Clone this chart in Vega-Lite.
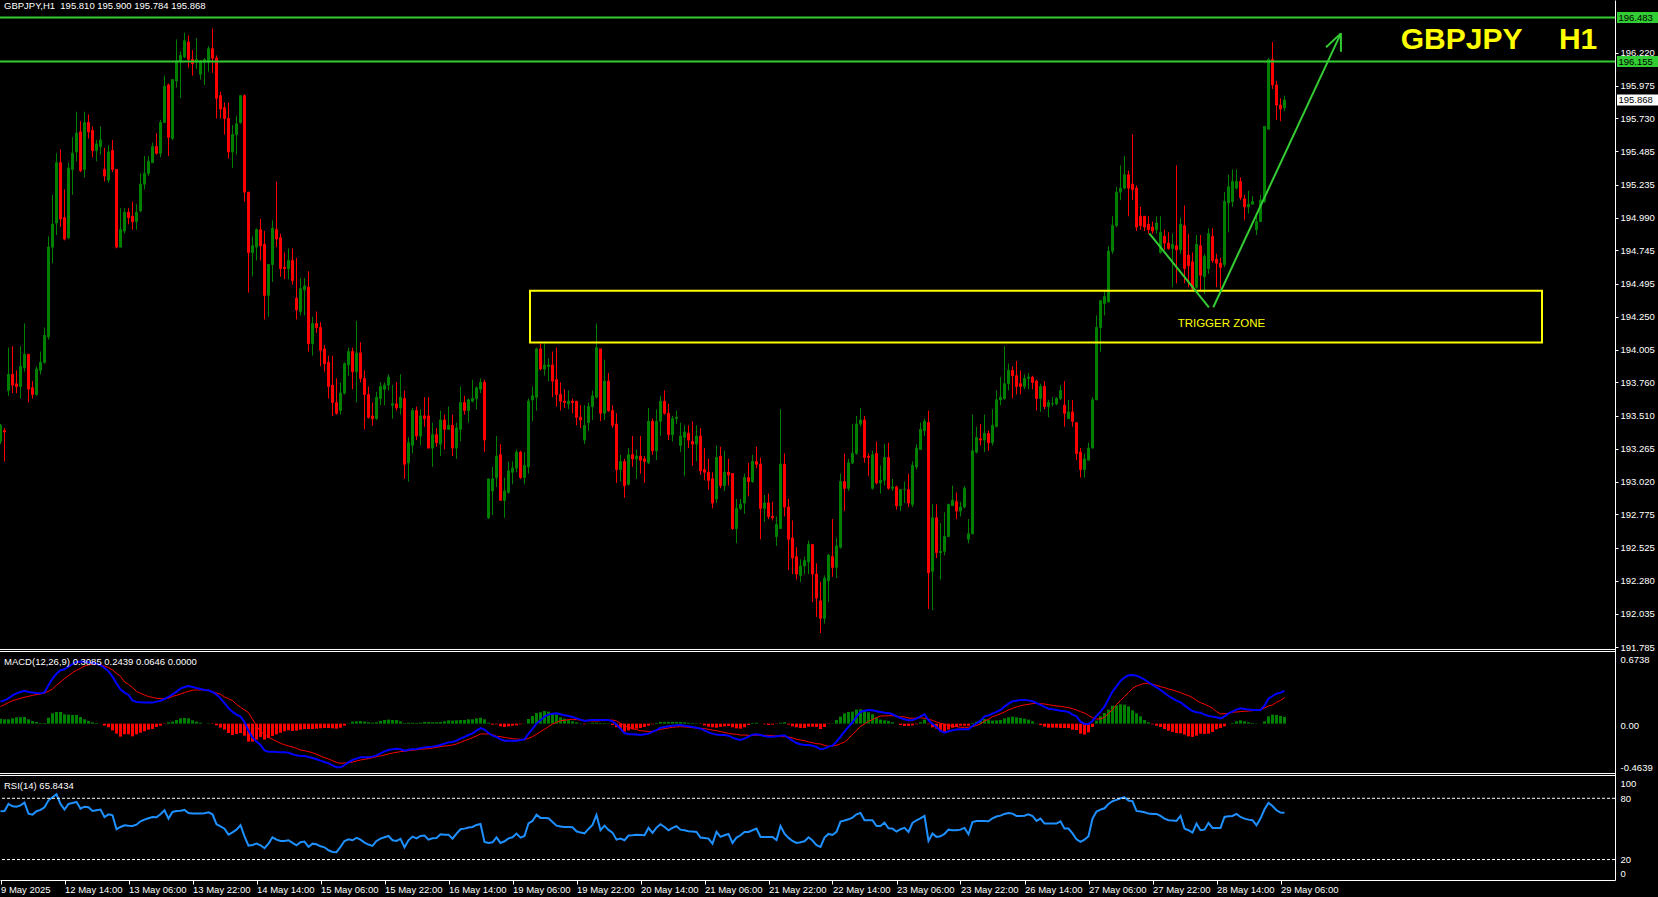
{
"$schema":"https://vega.github.io/schema/vega-lite/v6.json",
"width":1615,"height":880,
"autosize":{"type":"none"},
"padding":{"left":0,"top":0,"right":43,"bottom":17},
"background":"#000000",
"config":{"font":"Liberation Sans","view":{"stroke":null},"scale":{"continuousPadding":0},"axis":{"labelFont":"Liberation Sans","labelFontSize":9.5,"labelColor":"#ffffff","tickColor":"#ffffff","domainColor":"#ffffff","grid":false}},
"data":{"values":"i,o,h,l,c,macd,sig,hist,rsi\n0,193.32,193.45,193.30,193.44,0.207,0.160,0.047,67.3\n1,193.40,193.42,193.17,193.39,0.219,0.179,0.041,67.6\n2,193.70,194.02,193.66,193.82,0.238,0.198,0.041,74.5\n3,193.82,194.03,193.68,193.74,0.266,0.216,0.050,72.2\n4,193.75,193.85,193.68,193.73,0.285,0.226,0.060,71.8\n5,193.73,194.03,193.64,193.88,0.298,0.238,0.060,73.1\n6,193.87,194.20,193.84,193.97,0.310,0.248,0.063,75.8\n7,193.97,193.97,193.61,193.71,0.298,0.257,0.041,65.0\n8,193.72,193.77,193.64,193.67,0.292,0.266,0.025,64.0\n9,193.67,193.88,193.66,193.86,0.288,0.273,0.016,67.3\n10,193.85,193.99,193.82,193.91,0.285,0.279,0.006,68.6\n11,193.91,194.17,193.90,194.11,0.295,0.288,0.006,71.2\n12,194.10,194.85,194.08,194.77,0.361,0.304,0.056,78.0\n13,194.77,195.16,194.65,194.94,0.423,0.326,0.097,81.0\n14,194.95,195.47,194.86,195.40,0.470,0.361,0.110,83.9\n15,195.40,195.50,194.92,194.98,0.502,0.392,0.110,74.5\n16,194.99,195.20,194.82,194.83,0.511,0.423,0.088,68.9\n17,194.84,195.40,194.83,195.36,0.536,0.451,0.085,74.5\n18,195.35,195.59,195.16,195.47,0.561,0.480,0.082,75.4\n19,195.48,195.78,195.41,195.62,0.583,0.502,0.082,76.4\n20,195.63,195.71,195.33,195.34,0.583,0.520,0.063,69.9\n21,195.35,195.78,195.29,195.70,0.583,0.542,0.041,71.8\n22,195.70,195.76,195.58,195.63,0.577,0.552,0.025,71.2\n23,195.64,195.67,195.44,195.49,0.574,0.561,0.013,67.6\n24,195.49,195.57,195.41,195.54,0.564,0.558,0.006,68.3\n25,195.52,195.67,195.46,195.57,0.552,0.552,0.000,68.9\n26,195.35,195.51,195.26,195.30,0.524,0.542,-0.019,61.7\n27,195.27,195.53,195.25,195.48,0.492,0.527,-0.034,64.3\n28,195.49,195.57,195.33,195.35,0.442,0.505,-0.063,63.4\n29,195.35,195.35,194.76,194.77,0.379,0.473,-0.094,49.7\n30,194.77,195.06,194.77,194.90,0.323,0.445,-0.122,51.9\n31,194.89,195.06,194.87,195.03,0.292,0.392,-0.100,53.6\n32,195.03,195.06,194.94,194.99,0.270,0.370,-0.100,53.2\n33,195.00,195.11,194.90,194.96,0.219,0.339,-0.119,52.9\n34,194.96,195.09,194.90,195.03,0.204,0.304,-0.100,54.2\n35,195.04,195.32,195.03,195.24,0.201,0.285,-0.085,57.5\n36,195.24,195.45,195.20,195.32,0.198,0.270,-0.072,59.1\n37,195.32,195.45,195.30,195.41,0.198,0.254,-0.056,60.4\n38,195.40,195.55,195.40,195.52,0.198,0.248,-0.050,61.7\n39,195.52,195.62,195.46,195.47,0.207,0.238,-0.031,61.4\n40,195.47,195.72,195.44,195.70,0.216,0.235,-0.019,64.3\n41,195.70,196.05,195.70,195.97,0.232,0.235,-0.003,68.3\n42,195.98,195.99,195.45,195.59,0.251,0.238,0.013,60.1\n43,195.58,196.02,195.57,196.02,0.276,0.257,0.019,66.6\n44,196.01,196.32,195.96,196.16,0.301,0.266,0.035,67.6\n45,196.15,196.23,195.88,196.20,0.329,0.279,0.050,67.9\n46,196.19,196.37,196.18,196.31,0.345,0.292,0.053,68.6\n47,196.30,196.35,196.11,196.17,0.354,0.304,0.050,65.6\n48,196.17,196.24,196.05,196.14,0.345,0.314,0.031,65.0\n49,196.15,196.33,196.10,196.17,0.335,0.317,0.019,65.0\n50,196.06,196.16,196.02,196.16,0.326,0.317,0.009,65.0\n51,196.15,196.18,195.98,196.17,0.317,0.317,0.000,65.3\n52,196.15,196.27,196.08,196.25,0.314,0.310,0.003,66.3\n53,196.25,196.40,196.07,196.18,0.298,0.301,-0.003,64.3\n54,196.18,196.20,195.73,195.88,0.273,0.288,-0.016,54.6\n55,195.90,195.93,195.73,195.80,0.238,0.276,-0.038,52.6\n56,195.81,195.85,195.61,195.73,0.194,0.251,-0.056,50.3\n57,195.73,195.85,195.43,195.48,0.147,0.235,-0.088,44.4\n58,195.48,195.68,195.36,195.61,0.110,0.216,-0.107,46.7\n59,195.61,195.75,195.46,195.69,0.085,0.182,-0.097,49.3\n60,195.70,195.90,195.69,195.90,0.066,0.154,-0.088,53.6\n61,195.90,195.91,195.11,195.18,0.016,0.129,-0.113,42.8\n62,195.18,195.18,194.43,194.73,-0.066,0.103,-0.169,33.7\n63,194.73,194.85,194.55,194.78,-0.129,0.041,-0.169,34.3\n64,194.77,194.91,194.67,194.90,-0.169,-0.019,-0.150,35.6\n65,194.90,194.98,194.67,194.78,-0.201,-0.075,-0.125,34.0\n66,194.79,194.89,194.23,194.41,-0.251,-0.100,-0.150,31.1\n67,194.41,194.64,194.25,194.64,-0.263,-0.129,-0.135,35.6\n68,194.64,194.97,194.51,194.91,-0.263,-0.147,-0.116,41.8\n69,194.90,195.26,194.77,194.83,-0.266,-0.166,-0.100,39.5\n70,194.84,194.87,194.55,194.61,-0.270,-0.185,-0.085,38.2\n71,194.62,194.73,194.53,194.61,-0.270,-0.198,-0.072,38.2\n72,194.61,194.76,194.53,194.67,-0.273,-0.210,-0.063,38.9\n73,194.67,194.76,194.49,194.52,-0.288,-0.219,-0.069,36.3\n74,194.39,194.69,194.23,194.30,-0.298,-0.232,-0.066,34.0\n75,194.29,194.54,194.26,194.46,-0.304,-0.248,-0.056,36.9\n76,194.45,194.54,194.26,194.48,-0.304,-0.254,-0.050,37.6\n77,194.47,194.59,193.99,194.05,-0.314,-0.263,-0.050,32.4\n78,194.05,194.25,193.96,194.20,-0.323,-0.273,-0.050,35.6\n79,194.20,194.29,194.13,194.17,-0.335,-0.288,-0.047,35.0\n80,194.17,194.21,193.88,194.00,-0.348,-0.304,-0.044,33.0\n81,194.01,194.04,193.84,193.90,-0.361,-0.320,-0.041,32.0\n82,193.91,193.96,193.64,193.73,-0.373,-0.332,-0.041,29.1\n83,193.74,193.96,193.51,193.61,-0.392,-0.348,-0.044,27.5\n84,193.61,193.79,193.52,193.53,-0.411,-0.364,-0.047,27.2\n85,193.55,193.76,193.52,193.68,-0.411,-0.373,-0.038,32.4\n86,193.68,193.91,193.67,193.90,-0.389,-0.370,-0.019,38.2\n87,193.89,194.02,193.81,193.99,-0.364,-0.367,0.003,39.9\n88,193.99,194.02,193.71,193.84,-0.342,-0.361,0.019,38.9\n89,193.84,194.22,193.61,193.98,-0.329,-0.351,0.022,41.2\n90,193.98,194.06,193.76,193.79,-0.317,-0.342,0.025,39.5\n91,193.79,193.85,193.41,193.67,-0.317,-0.335,0.019,36.6\n92,193.67,193.73,193.49,193.50,-0.317,-0.329,0.013,34.7\n93,193.51,193.61,193.44,193.49,-0.310,-0.320,0.009,33.4\n94,193.49,193.69,193.48,193.65,-0.298,-0.310,0.013,38.2\n95,193.64,193.76,193.59,193.73,-0.279,-0.304,0.025,40.5\n96,193.71,193.76,193.59,193.74,-0.260,-0.295,0.034,41.8\n97,193.74,193.82,193.70,193.80,-0.248,-0.285,0.038,43.1\n98,193.59,193.74,193.49,193.60,-0.241,-0.276,0.034,38.9\n99,193.60,193.76,193.55,193.57,-0.235,-0.270,0.034,38.2\n100,193.57,193.82,193.52,193.65,-0.241,-0.263,0.022,40.2\n101,193.64,193.70,193.04,193.15,-0.254,-0.260,0.006,32.0\n102,193.16,193.35,193.02,193.31,-0.245,-0.254,0.009,38.9\n103,193.29,193.57,193.23,193.55,-0.241,-0.251,0.009,42.5\n104,193.55,193.58,193.33,193.36,-0.238,-0.245,0.006,40.8\n105,193.36,193.56,193.29,193.51,-0.232,-0.241,0.009,43.1\n106,193.51,193.65,193.43,193.49,-0.223,-0.238,0.016,43.5\n107,193.51,193.65,193.27,193.27,-0.219,-0.235,0.016,39.5\n108,193.27,193.46,193.13,193.37,-0.216,-0.229,0.013,40.8\n109,193.37,193.42,193.28,193.31,-0.210,-0.223,0.013,41.2\n110,193.30,193.55,193.21,193.48,-0.201,-0.216,0.016,44.8\n111,193.48,193.52,193.26,193.41,-0.188,-0.210,0.022,44.4\n112,193.41,193.58,193.41,193.44,-0.176,-0.207,0.031,44.4\n113,193.44,193.52,193.21,193.27,-0.172,-0.201,0.028,40.5\n114,193.27,193.46,193.19,193.42,-0.160,-0.191,0.031,45.4\n115,193.41,193.73,193.32,193.61,-0.141,-0.176,0.034,49.7\n116,193.61,193.66,193.52,193.55,-0.125,-0.160,0.034,50.3\n117,193.55,193.64,193.46,193.63,-0.107,-0.147,0.041,51.3\n118,193.62,193.78,193.61,193.64,-0.091,-0.132,0.041,51.9\n119,193.64,193.73,193.56,193.72,-0.066,-0.116,0.050,53.9\n120,193.71,193.79,193.68,193.76,-0.041,-0.097,0.056,54.9\n121,193.76,193.78,193.24,193.33,-0.056,-0.097,0.041,37.3\n122,192.75,193.04,192.74,193.04,-0.088,-0.097,0.009,36.3\n123,192.95,193.13,192.77,193.04,-0.113,-0.103,-0.009,36.9\n124,193.05,193.36,192.98,193.21,-0.125,-0.119,-0.006,41.8\n125,193.22,193.30,192.88,192.88,-0.147,-0.122,-0.025,36.3\n126,192.88,193.05,192.75,192.95,-0.160,-0.129,-0.031,37.9\n127,192.94,193.17,192.93,193.10,-0.160,-0.135,-0.025,40.8\n128,193.09,193.17,193.00,193.12,-0.160,-0.141,-0.019,41.8\n129,193.12,193.26,193.09,193.24,-0.160,-0.144,-0.016,45.4\n130,193.24,193.25,193.04,193.05,-0.154,-0.147,-0.006,41.5\n131,193.05,193.24,193.00,193.14,-0.147,-0.150,0.003,43.1\n132,193.13,193.64,193.08,193.62,-0.094,-0.138,0.044,55.5\n133,193.63,193.73,193.47,193.66,-0.050,-0.122,0.072,57.8\n134,193.65,194.02,193.55,194.01,0.000,-0.100,0.100,64.0\n135,194.01,194.05,193.85,193.86,0.031,-0.075,0.107,60.8\n136,193.86,194.05,193.81,193.89,0.066,-0.053,0.119,60.8\n137,193.88,193.94,193.77,193.89,0.085,-0.028,0.113,60.4\n138,193.89,193.99,193.65,193.77,0.094,-0.003,0.097,56.8\n139,193.78,194.02,193.58,193.67,0.097,0.013,0.085,53.2\n140,193.67,193.76,193.55,193.62,0.088,0.028,0.060,52.3\n141,193.62,193.71,193.57,193.61,0.078,0.031,0.047,51.9\n142,193.60,193.70,193.56,193.62,0.072,0.038,0.034,51.9\n143,193.62,193.64,193.53,193.61,0.063,0.041,0.022,51.6\n144,193.62,193.62,193.44,193.50,0.050,0.038,0.013,47.7\n145,193.50,193.59,193.42,193.48,0.038,0.034,0.003,46.4\n146,193.33,193.59,193.30,193.44,0.025,0.031,-0.006,45.7\n147,193.46,193.61,193.40,193.58,0.031,0.028,0.003,50.0\n148,193.58,193.70,193.48,193.66,0.034,0.025,0.009,53.9\n149,193.65,194.20,193.64,194.02,0.034,0.025,0.009,63.7\n150,194.01,194.01,193.47,193.53,0.034,0.028,0.006,48.7\n151,193.53,193.93,193.48,193.77,0.034,0.028,0.006,53.2\n152,193.77,193.83,193.54,193.55,0.034,0.031,0.003,49.0\n153,193.55,193.59,193.42,193.44,0.022,0.034,-0.013,46.4\n154,193.45,193.53,193.01,193.11,-0.009,0.025,-0.034,39.5\n155,193.11,193.22,193.02,193.17,-0.047,0.003,-0.050,40.5\n156,193.17,193.19,192.90,192.99,-0.091,-0.016,-0.075,38.9\n157,193.00,193.27,192.99,193.22,-0.097,-0.034,-0.063,43.5\n158,193.22,193.36,193.13,193.19,-0.100,-0.047,-0.053,43.8\n159,193.19,193.26,193.04,193.21,-0.103,-0.056,-0.047,44.4\n160,193.21,193.36,193.08,193.18,-0.107,-0.066,-0.041,44.1\n161,193.19,193.21,193.01,193.17,-0.100,-0.069,-0.031,43.8\n162,193.16,193.57,193.15,193.47,-0.094,-0.075,-0.019,51.0\n163,193.47,193.49,193.22,193.25,-0.078,-0.072,-0.006,46.1\n164,193.25,193.56,193.18,193.47,-0.060,-0.066,0.006,51.3\n165,193.47,193.66,193.36,193.62,-0.038,-0.053,0.016,54.6\n166,193.62,193.70,193.52,193.53,-0.031,-0.047,0.016,51.9\n167,193.53,193.60,193.33,193.37,-0.025,-0.041,0.016,48.7\n168,193.37,193.51,193.32,193.49,-0.019,-0.034,0.016,51.0\n169,193.49,193.55,193.45,193.50,-0.016,-0.031,0.016,52.6\n170,193.29,193.46,193.24,193.36,-0.013,-0.028,0.016,49.3\n171,193.35,193.44,193.06,193.39,-0.019,-0.031,0.013,48.7\n172,193.38,193.44,193.27,193.33,-0.025,-0.034,0.009,47.7\n173,193.32,193.47,193.14,193.30,-0.031,-0.038,0.006,47.4\n174,193.30,193.44,193.17,193.36,-0.038,-0.041,0.003,47.1\n175,193.36,193.42,193.07,193.10,-0.047,-0.044,-0.003,41.5\n176,193.11,193.27,193.03,193.09,-0.063,-0.047,-0.016,41.2\n177,193.09,193.19,192.96,193.03,-0.082,-0.053,-0.028,40.5\n178,193.04,193.09,192.82,192.86,-0.094,-0.060,-0.034,35.6\n179,192.89,193.29,192.86,193.20,-0.103,-0.066,-0.038,47.1\n180,193.21,193.28,192.97,192.99,-0.107,-0.075,-0.031,42.2\n181,192.99,193.25,192.95,193.09,-0.107,-0.082,-0.025,43.8\n182,193.09,193.19,192.99,193.07,-0.113,-0.091,-0.022,45.1\n183,193.08,193.08,192.66,192.67,-0.132,-0.097,-0.034,36.3\n184,192.67,192.89,192.56,192.82,-0.144,-0.100,-0.044,41.5\n185,192.82,192.89,192.81,192.85,-0.154,-0.107,-0.047,43.8\n186,192.86,193.08,192.78,193.05,-0.141,-0.107,-0.034,47.1\n187,193.05,193.16,192.91,193.02,-0.122,-0.110,-0.013,47.1\n188,193.02,193.22,193.01,193.17,-0.103,-0.110,0.006,48.7\n189,193.17,193.28,193.12,193.15,-0.100,-0.110,0.009,50.3\n190,193.15,193.20,192.59,192.82,-0.107,-0.107,0.000,42.2\n191,192.82,192.92,192.72,192.86,-0.116,-0.110,-0.006,42.2\n192,192.86,192.93,192.74,192.76,-0.122,-0.110,-0.013,42.2\n193,192.76,192.87,192.73,192.75,-0.122,-0.113,-0.009,42.2\n194,192.61,192.76,192.54,192.70,-0.119,-0.116,-0.003,39.2\n195,192.67,193.56,192.67,193.15,-0.113,-0.122,0.009,52.9\n196,193.15,193.23,192.76,192.83,-0.110,-0.122,0.013,45.4\n197,192.83,192.89,192.36,192.59,-0.135,-0.125,-0.009,41.2\n198,192.60,192.73,192.33,192.45,-0.160,-0.135,-0.025,38.2\n199,192.46,192.53,192.29,192.33,-0.182,-0.147,-0.034,36.3\n200,192.32,192.44,192.27,192.39,-0.194,-0.154,-0.041,36.9\n201,192.39,192.46,192.33,192.43,-0.201,-0.160,-0.041,37.9\n202,192.42,192.58,192.33,192.55,-0.201,-0.172,-0.028,41.8\n203,192.55,192.55,192.12,192.33,-0.207,-0.179,-0.028,38.6\n204,192.33,192.41,192.01,192.15,-0.219,-0.188,-0.031,34.0\n205,192.13,192.27,191.89,192.00,-0.241,-0.191,-0.050,32.4\n206,192.00,192.32,191.96,192.30,-0.235,-0.204,-0.031,41.5\n207,192.28,192.48,192.12,192.47,-0.216,-0.213,-0.003,45.1\n208,192.46,192.74,192.31,192.38,-0.207,-0.210,0.003,44.1\n209,192.38,192.60,192.30,192.54,-0.169,-0.204,0.034,47.1\n210,192.53,193.08,192.52,193.02,-0.122,-0.188,0.066,57.2\n211,193.02,193.23,192.80,192.97,-0.075,-0.172,0.097,58.2\n212,192.97,193.19,192.95,193.16,-0.031,-0.141,0.110,59.4\n213,193.16,193.45,193.15,193.23,0.013,-0.100,0.113,61.1\n214,193.23,193.51,193.22,193.45,0.066,-0.066,0.132,64.3\n215,193.45,193.57,193.43,193.48,0.110,-0.025,0.135,65.6\n216,193.48,193.51,193.16,193.20,0.122,-0.003,0.125,58.5\n217,193.21,193.23,193.06,193.20,0.129,0.022,0.107,58.5\n218,192.97,193.25,192.96,193.22,0.125,0.038,0.088,58.5\n219,193.23,193.32,193.00,193.01,0.116,0.056,0.060,52.9\n220,193.01,193.14,192.93,193.03,0.110,0.072,0.038,52.9\n221,193.03,193.30,192.99,193.20,0.103,0.072,0.031,56.2\n222,193.20,193.31,192.96,192.97,0.100,0.075,0.025,50.6\n223,192.97,193.04,192.95,192.98,0.088,0.075,0.013,50.3\n224,192.98,192.99,192.81,192.84,0.069,0.069,0.000,47.4\n225,192.84,192.96,192.80,192.96,0.053,0.066,-0.013,49.7\n226,192.96,193.02,192.86,192.96,0.041,0.063,-0.022,51.0\n227,192.96,193.08,192.83,192.86,0.031,0.053,-0.022,47.1\n228,192.85,193.17,192.83,193.14,0.034,0.050,-0.016,55.9\n229,193.13,193.30,193.11,193.27,0.047,0.053,-0.006,58.5\n230,193.26,193.46,193.26,193.41,0.069,0.056,0.013,60.4\n231,193.40,193.49,193.36,193.47,0.088,0.050,0.038,62.7\n232,193.46,193.55,192.07,192.34,0.034,0.041,-0.006,38.2\n233,192.35,192.85,192.06,192.75,-0.003,0.031,-0.034,45.4\n234,192.75,192.85,192.45,192.49,-0.031,0.016,-0.047,42.2\n235,192.49,192.71,192.29,192.50,-0.069,0.003,-0.072,42.8\n236,192.50,192.79,192.47,192.61,-0.085,-0.006,-0.078,45.1\n237,192.61,192.85,192.61,192.85,-0.072,-0.016,-0.056,49.3\n238,192.84,192.99,192.84,192.88,-0.063,-0.025,-0.038,48.7\n239,192.87,192.94,192.74,192.80,-0.056,-0.028,-0.028,48.7\n240,192.80,192.87,192.76,192.83,-0.053,-0.034,-0.019,49.3\n241,192.83,192.99,192.82,192.97,-0.053,-0.034,-0.019,51.0\n242,192.59,192.74,192.56,192.63,-0.053,-0.034,-0.019,44.8\n243,192.63,193.52,192.63,193.25,-0.022,-0.028,0.006,56.8\n244,193.24,193.43,193.23,193.35,0.003,-0.016,0.019,57.8\n245,193.34,193.45,193.29,193.33,0.028,-0.003,0.031,57.8\n246,193.33,193.52,193.24,193.38,0.069,0.025,0.044,57.8\n247,193.38,193.40,193.25,193.31,0.078,0.041,0.038,57.5\n248,193.31,193.56,193.29,193.44,0.094,0.066,0.028,60.4\n249,193.43,193.70,193.43,193.63,0.110,0.078,0.031,62.1\n250,193.63,193.80,193.59,193.65,0.129,0.094,0.034,63.0\n251,193.64,194.03,193.63,193.75,0.160,0.110,0.050,64.7\n252,193.75,193.90,193.70,193.85,0.188,0.129,0.060,65.6\n253,193.85,193.88,193.64,193.81,0.210,0.144,0.066,65.0\n254,193.81,193.92,193.67,193.73,0.216,0.157,0.060,62.7\n255,193.75,193.85,193.67,193.73,0.223,0.169,0.053,62.7\n256,193.73,193.82,193.71,193.79,0.223,0.176,0.047,63.0\n257,193.79,193.83,193.71,193.80,0.219,0.182,0.038,64.3\n258,193.80,193.81,193.71,193.76,0.210,0.188,0.022,62.7\n259,193.77,193.78,193.55,193.64,0.194,0.191,0.003,57.8\n260,193.64,193.75,193.54,193.73,0.176,0.188,-0.013,60.1\n261,193.73,193.77,193.56,193.58,0.157,0.185,-0.028,55.2\n262,193.58,193.63,193.50,193.61,0.141,0.179,-0.038,55.2\n263,193.60,193.65,193.58,193.60,0.135,0.172,-0.038,55.2\n264,193.60,193.65,193.59,193.64,0.129,0.166,-0.038,55.2\n265,193.64,193.74,193.63,193.70,0.122,0.163,-0.041,57.5\n266,193.59,193.77,193.43,193.53,0.116,0.157,-0.041,50.3\n267,193.49,193.63,193.49,193.54,0.110,0.150,-0.041,50.3\n268,193.54,193.63,193.43,193.47,0.085,0.141,-0.056,45.7\n269,193.46,193.46,193.18,193.23,0.069,0.129,-0.060,39.9\n270,193.24,193.27,193.05,193.11,0.019,0.113,-0.094,37.3\n271,193.11,193.23,193.05,193.19,-0.003,0.100,-0.103,39.5\n272,193.18,193.31,193.18,193.27,-0.003,0.078,-0.082,42.8\n273,193.27,193.65,193.27,193.63,0.025,0.056,-0.031,60.1\n274,193.63,194.26,193.63,194.17,0.072,0.044,0.028,67.0\n275,194.17,194.37,193.99,194.37,0.113,0.044,0.069,68.9\n276,194.35,194.45,194.26,194.40,0.160,0.060,0.100,70.2\n277,194.36,194.78,194.36,194.74,0.229,0.097,0.132,74.5\n278,194.74,195.00,194.72,194.93,0.301,0.132,0.169,77.1\n279,194.93,195.22,194.92,195.18,0.351,0.179,0.172,78.4\n280,195.18,195.38,195.12,195.21,0.401,0.219,0.182,80.0\n281,195.21,195.45,195.20,195.31,0.433,0.254,0.179,81.0\n282,195.31,195.34,195.00,195.21,0.455,0.292,0.163,77.7\n283,195.24,195.61,195.12,195.20,0.458,0.332,0.125,77.1\n284,195.21,195.23,194.89,194.92,0.451,0.354,0.097,67.6\n285,195.00,195.07,194.90,194.93,0.436,0.367,0.069,67.0\n286,195.00,195.00,194.89,194.92,0.414,0.379,0.034,66.3\n287,194.94,195.00,194.87,194.90,0.389,0.376,0.013,65.0\n288,194.92,194.96,194.87,194.89,0.364,0.370,-0.006,64.7\n289,194.90,195.00,194.87,194.95,0.342,0.361,-0.019,64.7\n290,194.73,195.00,194.72,194.88,0.317,0.348,-0.031,62.7\n291,194.85,194.90,194.75,194.80,0.288,0.339,-0.050,60.1\n292,194.80,194.88,194.75,194.76,0.260,0.326,-0.066,58.5\n293,194.76,194.87,194.47,194.79,0.238,0.317,-0.078,58.2\n294,194.78,195.38,194.50,194.75,0.216,0.304,-0.088,57.8\n295,194.75,194.99,194.72,194.94,0.201,0.292,-0.091,62.7\n296,194.93,195.08,194.50,194.61,0.172,0.276,-0.103,50.3\n297,194.71,194.87,194.47,194.63,0.144,0.263,-0.119,48.7\n298,194.66,194.73,194.44,194.46,0.119,0.245,-0.125,46.4\n299,194.47,194.86,194.46,194.79,0.107,0.219,-0.113,55.2\n300,194.78,194.86,194.44,194.56,0.103,0.198,-0.094,48.7\n301,194.55,194.72,194.42,194.70,0.085,0.182,-0.097,49.3\n302,194.61,194.91,194.57,194.87,0.072,0.166,-0.094,55.9\n303,194.85,194.91,194.65,194.67,0.066,0.144,-0.078,51.0\n304,194.68,194.72,194.47,194.65,0.060,0.113,-0.053,51.0\n305,194.65,194.69,194.46,194.62,0.050,0.091,-0.041,51.0\n306,194.64,195.18,194.62,195.11,0.069,0.094,-0.025,61.7\n307,195.10,195.31,194.88,195.22,0.097,0.097,0.000,62.4\n308,195.11,195.35,195.07,195.26,0.113,0.107,0.006,62.7\n309,195.21,195.35,195.20,195.26,0.132,0.110,0.022,64.7\n310,195.26,195.29,195.12,195.14,0.144,0.113,0.031,61.7\n311,195.13,195.16,194.97,195.07,0.138,0.116,0.022,60.1\n312,195.07,195.19,195.02,195.09,0.132,0.119,0.013,59.1\n313,195.09,195.15,195.09,195.11,0.129,0.122,0.006,58.5\n314,194.90,195.02,194.86,194.96,0.129,0.125,0.003,53.6\n315,194.96,195.16,194.96,195.12,0.129,0.129,0.000,60.1\n316,195.11,195.67,195.10,195.67,0.169,0.147,0.022,69.2\n317,195.65,196.18,195.65,196.17,0.235,0.166,0.069,75.4\n318,196.17,196.30,195.95,195.98,0.260,0.176,0.085,72.5\n319,195.98,196.01,195.72,195.83,0.282,0.201,0.082,68.3\n320,195.83,195.88,195.71,195.80,0.292,0.219,0.072,66.0\n321,195.810,195.900,195.784,195.868,0.3085,0.2439,0.0646,65.84","format":{"type":"csv","parse":{"i":"number","o":"number","h":"number","l":"number","c":"number","macd":"number","sig":"number","hist":"number","rsi":"number"}}},
"resolve":{"scale":{"y":"independent"},"axis":{"y":"independent"}},
"layer":[
 {"layer":[
  {"mark":{"type":"rule","strokeWidth":1},
   "encoding":{
    "x":{"field":"i","type":"quantitative","scale":{"domain":[-0.125,403.625],"nice":false,"zero":false,"padding":0},
         "axis":{"orient":"bottom","values":[0,16,32,48,64,80,96,112,128,144,160,176,192,208,224,240,256,272,288,304,320],
                 "labelExpr":"['9 May 2025','12 May 14:00','13 May 06:00','13 May 22:00','14 May 14:00','15 May 06:00','15 May 22:00','16 May 14:00','19 May 06:00','19 May 22:00','20 May 14:00','21 May 06:00','21 May 22:00','22 May 14:00','23 May 06:00','23 May 22:00','26 May 14:00','27 May 06:00','27 May 22:00','28 May 14:00','29 May 06:00'][round(datum.value/16)]",
                 "labelAlign":"left","labelBaseline":"top","labelDx":1,"labelPadding":0,"tickSize":4,"domain":true,"ticks":true,"labelOverlap":false,"labelFlush":false,"labelBound":false,"title":null,"grid":false}},
    "y":{"field":"l","type":"quantitative","scale":{"domain":[190.0468,196.614],"nice":false,"zero":false},
         "axis":{"orient":"right","values":[196.22,195.975,195.73,195.485,195.235,194.99,194.745,194.495,194.25,194.005,193.76,193.51,193.265,193.02,192.775,192.525,192.28,192.035,191.785],
                 "labelExpr":"format(datum.value,'.3f')","tickSize":3,"labelPadding":2,"domain":true,"ticks":true,"labelOverlap":false,"labelFlush":false,"labelBound":false,"title":null,"grid":false}},
    "y2":{"field":"h"},
    "color":{"condition":{"test":"datum.c >= datum.o","value":"#008000"},"value":"#ff0000"}}},
  {"mark":{"type":"bar","size":2,"strokeWidth":1},
   "encoding":{
    "x":{"field":"i","type":"quantitative","scale":{"domain":[-0.125,403.625],"nice":false,"zero":false,"padding":0}},
    "y":{"field":"o","type":"quantitative","scale":{"domain":[190.0468,196.614],"nice":false,"zero":false}},
    "y2":{"field":"c"},
    "fill":{"condition":{"test":"datum.c >= datum.o","value":"#008000"},"value":"#ff0000"},
    "stroke":{"condition":{"test":"datum.c >= datum.o","value":"#008000"},"value":"#ff0000"}}},
  {"data":{"values":[{"p":191.76699},{"p":191.75206},{"p":190.84161},{"p":190.82669}]},
   "mark":{"type":"rule","color":"#ffffff","strokeWidth":1},
   "encoding":{"y":{"field":"p","type":"quantitative","scale":{"domain":[190.0468,196.614],"nice":false,"zero":false}}}},
  {"data":{"values":[{"p":196.483},{"p":196.155}]},
   "mark":{"type":"rule","color":"#32cd32","strokeWidth":2},
   "encoding":{"y":{"field":"p","type":"quantitative","scale":{"domain":[190.0468,196.614],"nice":false,"zero":false}}}},
  {"data":{"values":[{"a":132.375,"b":385.375,"top":194.4439,"bot":194.0573}]},
   "mark":{"type":"rect","filled":false,"color":"#ffff00","strokeWidth":2},
   "encoding":{
    "x":{"field":"a","type":"quantitative","scale":{"domain":[-0.125,403.625],"nice":false,"zero":false,"padding":0}},
    "x2":{"field":"b"},
    "y":{"field":"top","type":"quantitative","scale":{"domain":[190.0468,196.614],"nice":false,"zero":false}},
    "y2":{"field":"bot"}}},
  {"data":{"values":[{"a":287.2,"pa":194.873,"b":302.1,"pb":194.321},{"a":303.2,"pa":194.321,"b":335.1,"pb":196.365},{"a":335.1,"pa":196.365,"b":331.4,"pb":196.261},{"a":335.1,"pa":196.365,"b":335.1,"pb":196.228}]},
   "mark":{"type":"rule","color":"#33cc33","strokeWidth":2},
   "encoding":{
    "x":{"field":"a","type":"quantitative","scale":{"domain":[-0.125,403.625],"nice":false,"zero":false,"padding":0}},
    "x2":{"field":"b"},
    "y":{"field":"pa","type":"quantitative","scale":{"domain":[190.0468,196.614],"nice":false,"zero":false}},
    "y2":{"field":"pb"}}},
  {"data":{"values":[{"x":0.875,"y":196.547,"t":"GBPJPY,H1\u00a0 195.810 195.900 195.784 195.868"}]},
   "mark":{"type":"text","align":"left","baseline":"alphabetic","fontSize":9.5,"font":"Liberation Sans","color":"#ffffff"},
   "encoding":{
    "x":{"field":"x","type":"quantitative","scale":{"domain":[-0.125,403.625],"nice":false,"zero":false,"padding":0}},
    "y":{"field":"y","type":"quantitative","scale":{"domain":[190.0468,196.614],"nice":false,"zero":false}},
    "text":{"field":"t"}}},
  {"data":{"values":[{"x":350.05,"y":196.252,"t":"GBPJPY"},{"x":389.6,"y":196.252,"t":"H1"}]},
   "mark":{"type":"text","align":"left","baseline":"alphabetic","fontSize":30,"fontWeight":"bold","font":"Liberation Sans","color":"#ffff00"},
   "encoding":{
    "x":{"field":"x","type":"quantitative","scale":{"domain":[-0.125,403.625],"nice":false,"zero":false,"padding":0}},
    "y":{"field":"y","type":"quantitative","scale":{"domain":[190.0468,196.614],"nice":false,"zero":false}},
    "text":{"field":"t"}}},
  {"data":{"values":[{"x":305.23,"y":194.1774,"t":"TRIGGER ZONE"}]},
   "mark":{"type":"text","align":"center","baseline":"alphabetic","fontSize":11.5,"font":"Liberation Sans","color":"#ffff00"},
   "encoding":{
    "x":{"field":"x","type":"quantitative","scale":{"domain":[-0.125,403.625],"nice":false,"zero":false,"padding":0}},
    "y":{"field":"y","type":"quantitative","scale":{"domain":[190.0468,196.614],"nice":false,"zero":false}},
    "text":{"field":"t"}}},
  {"data":{"values":[{"p":196.483},{"p":196.155}]},
   "mark":{"type":"rule","color":"#32cd32","strokeWidth":11},
   "encoding":{
    "x":{"datum":404.125,"type":"quantitative","scale":{"domain":[-0.125,403.625],"nice":false,"zero":false,"padding":0}},
    "x2":{"datum":414.375},
    "y":{"field":"p","type":"quantitative","scale":{"domain":[190.0468,196.614],"nice":false,"zero":false}}}},
  {"data":{"values":[{"p":195.868}]},
   "mark":{"type":"rule","color":"#ffffff","strokeWidth":11},
   "encoding":{
    "x":{"datum":404.125,"type":"quantitative","scale":{"domain":[-0.125,403.625],"nice":false,"zero":false,"padding":0}},
    "x2":{"datum":414.375},
    "y":{"field":"p","type":"quantitative","scale":{"domain":[190.0468,196.614],"nice":false,"zero":false}}}},
  {"data":{"values":[{"p":196.483,"t":"196.483"},{"p":196.155,"t":"196.155"},{"p":195.868,"t":"195.868"}]},
   "mark":{"type":"text","align":"left","baseline":"middle","fontSize":9.5,"font":"Liberation Sans","color":"#000000"},
   "encoding":{
    "x":{"datum":404.5,"type":"quantitative","scale":{"domain":[-0.125,403.625],"nice":false,"zero":false,"padding":0}},
    "y":{"field":"p","type":"quantitative","scale":{"domain":[190.0468,196.614],"nice":false,"zero":false}},
    "text":{"field":"t"}}}
 ]},
 {"layer":[
  {"mark":{"type":"bar","size":3},
   "encoding":{
    "x":{"field":"i","type":"quantitative","scale":{"domain":[-0.125,403.625],"nice":false,"zero":false,"padding":0}},
    "y":{"field":"hist","type":"quantitative","scale":{"domain":[-1.4701,6.8045],"nice":false,"zero":false},
         "axis":{"orient":"right","values":[-0.4104,-0.015,0.5986],"labelExpr":"datum.value > 0.3 ? '0.6738' : (datum.value < -0.2 ? '-0.4639' : '0.00')","ticks":false,"tickSize":0,"domain":false,"labelPadding":5,"labelOverlap":false,"labelFlush":false,"labelBound":false,"title":null,"grid":false}},
    "y2":{"datum":0},
    "color":{"condition":{"test":"datum.hist >= 0","value":"#008000"},"value":"#ff0000"}}},
  {"mark":{"type":"line","color":"#ff0000","strokeWidth":1},
   "encoding":{
    "x":{"field":"i","type":"quantitative","scale":{"domain":[-0.125,403.625],"nice":false,"zero":false,"padding":0}},
    "y":{"field":"sig","type":"quantitative","scale":{"domain":[-1.4701,6.8045],"nice":false,"zero":false}}}},
  {"mark":{"type":"line","color":"#0000ff","strokeWidth":2},
   "encoding":{
    "x":{"field":"i","type":"quantitative","scale":{"domain":[-0.125,403.625],"nice":false,"zero":false,"padding":0}},
    "y":{"field":"macd","type":"quantitative","scale":{"domain":[-1.4701,6.8045],"nice":false,"zero":false}}}},
  {"data":{"values":[{"x":0.875,"y":0.5469,"t":"MACD(12,26,9) 0.3085 0.2439 0.0646 0.0000"}]},
   "mark":{"type":"text","align":"left","baseline":"alphabetic","fontSize":9.5,"font":"Liberation Sans","color":"#ffffff"},
   "encoding":{
    "x":{"field":"x","type":"quantitative","scale":{"domain":[-0.125,403.625],"nice":false,"zero":false,"padding":0}},
    "y":{"field":"y","type":"quantitative","scale":{"domain":[-1.4701,6.8045],"nice":false,"zero":false}},
    "text":{"field":"t"}}}
 ]},
 {"layer":[
  {"mark":{"type":"line","color":"#1e90ff","strokeWidth":2},
   "encoding":{
    "x":{"field":"i","type":"quantitative","scale":{"domain":[-0.125,403.625],"nice":false,"zero":false,"padding":0}},
    "y":{"field":"rsi","type":"quantitative","scale":{"domain":[0,861.56],"nice":false,"zero":false},
         "axis":{"orient":"right","values":[5.9,20.3,79.6,94.0],"labelExpr":"datum.value > 90 ? '100' : (datum.value > 50 ? '80' : (datum.value > 10 ? '20' : '0'))","ticks":false,"tickSize":0,"domain":false,"labelPadding":5,"labelOverlap":false,"labelFlush":false,"labelBound":false,"title":null,"grid":false}}}},
  {"data":{"values":[{"v":80},{"v":20}]},
   "mark":{"type":"rule","color":"#ffffff","strokeWidth":1,"strokeDash":[3,2]},
   "encoding":{"y":{"field":"v","type":"quantitative","scale":{"domain":[0,861.56],"nice":false,"zero":false}}}},
  {"data":{"values":[{"x":0.875,"y":88.8,"t":"RSI(14) 65.8434"}]},
   "mark":{"type":"text","align":"left","baseline":"alphabetic","fontSize":9.5,"font":"Liberation Sans","color":"#ffffff"},
   "encoding":{
    "x":{"field":"x","type":"quantitative","scale":{"domain":[-0.125,403.625],"nice":false,"zero":false,"padding":0}},
    "y":{"field":"y","type":"quantitative","scale":{"domain":[0,861.56],"nice":false,"zero":false}},
    "text":{"field":"t"}}}
 ]}
]
}
